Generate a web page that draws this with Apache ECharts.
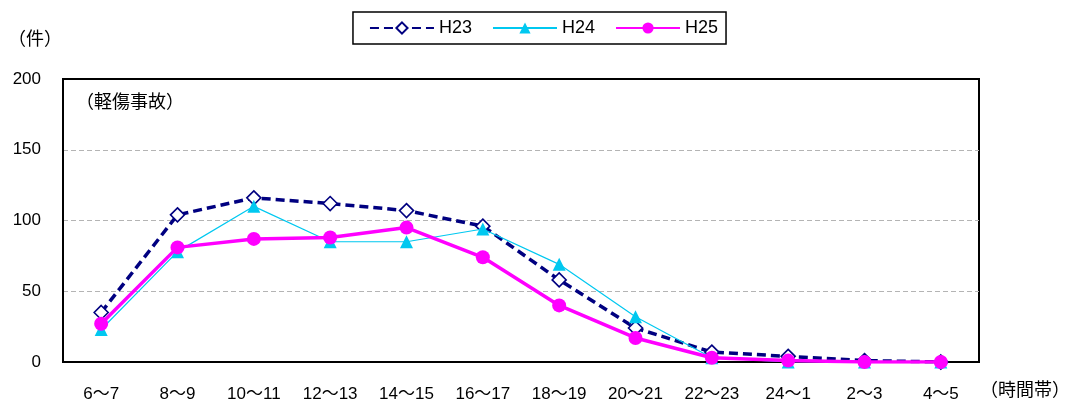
<!DOCTYPE html>
<html>
<head>
<meta charset="utf-8">
<script src="https://cdn.jsdelivr.net/npm/echarts@6/dist/echarts.min.js"></script>
<style>
  html, body { margin: 0; padding: 0; background: #fff; }
  #chart { width: 1087px; height: 407px; }
</style>
</head>
<body>
<div id="chart"></div>
<script>
// Time-of-day bands (hours)
const categories = ['6〜7', '8〜9', '10〜11', '12〜13', '14〜15', '16〜17', '18〜19', '20〜21', '22〜23', '24〜1', '2〜3', '4〜5'];
// Minor-injury accidents per band, by fiscal year
const h23 = [35, 104, 116, 112, 107, 96, 58, 24, 7, 4, 1, 0];
const h24 = [23, 78, 110, 85, 85, 94, 69, 32, 3, 0, 0, 0];
const h25 = [27, 81, 87, 88, 95, 74, 40, 17, 3, 1, 0, 0];
const yTicks = [0, 50, 100, 150, 200];

const FONT = '"Liberation Sans", "Noto Sans CJK JP", sans-serif';
const chart = echarts.init(document.getElementById('chart'));

chart.setOption({
  animation: false,
  textStyle: { fontFamily: FONT, color: '#000' },
  legend: {
    top: 12,
    left: 'center',
    padding: [7, 8, 7, 16],
    borderColor: '#000',
    borderWidth: 1.5,
    itemWidth: 64,
    itemHeight: 14,
    itemGap: 20,
    textStyle: { fontSize: 18, color: '#000', fontFamily: FONT },
    data: ['H23', 'H24', 'H25']
  },
  grid: {
    left: 63, right: 108, top: 79, bottom: 45,
    show: true, borderColor: '#000', borderWidth: 2
  },
  xAxis: {
    type: 'category',
    data: categories,
    boundaryGap: true,
    axisLine: { lineStyle: { color: '#000', width: 2 } },
    axisTick: { inside: true, length: 6, lineStyle: { color: '#000', width: 1.5 } },
    axisLabel: { margin: 24, fontSize: 17, color: '#000', fontFamily: FONT }
  },
  yAxis: {
    type: 'value',
    min: yTicks[0],
    max: yTicks[yTicks.length - 1],
    interval: 50,
    axisLine: { show: true, lineStyle: { color: '#000', width: 2 } },
    axisTick: { show: false },
    axisLabel: { margin: 22, fontSize: 17, color: '#000', fontFamily: FONT },
    splitLine: {
      showMinLine: false, showMaxLine: false,
      lineStyle: { color: '#b4b4b4', type: [5, 3], width: 1 }
    }
  },
  series: [
    {
      name: 'H23', type: 'line', data: h23,
      symbol: 'diamond', symbolSize: 14,
      itemStyle: { color: '#fff', borderColor: '#000080', borderWidth: 1.6 },
      lineStyle: { color: '#000080', width: 3.5, type: [9, 5] },
      z: 2
    },
    {
      name: 'H24', type: 'line', data: h24,
      symbol: 'triangle', symbolSize: 13,
      itemStyle: { color: '#00c8f0' },
      lineStyle: { color: '#00c8f0', width: 1.2 },
      z: 3
    },
    {
      name: 'H25', type: 'line', data: h25,
      symbol: 'circle', symbolSize: 14,
      itemStyle: { color: '#ff00ff' },
      lineStyle: { color: '#ff00ff', width: 3.5 },
      z: 4
    }
  ],
  graphic: [
    { type: 'text', left: 8, top: 31, style: { text: '（件）', fontSize: 18, fill: '#000', fontFamily: FONT } },
    { type: 'text', left: 76, top: 94, style: { text: '（軽傷事故）', fontSize: 18, fill: '#000', fontFamily: FONT } },
    { type: 'text', left: 980, top: 382, style: { text: '（時間帯）', fontSize: 18, fill: '#000', fontFamily: FONT } }
  ]
});
</script>
</body>
</html>
